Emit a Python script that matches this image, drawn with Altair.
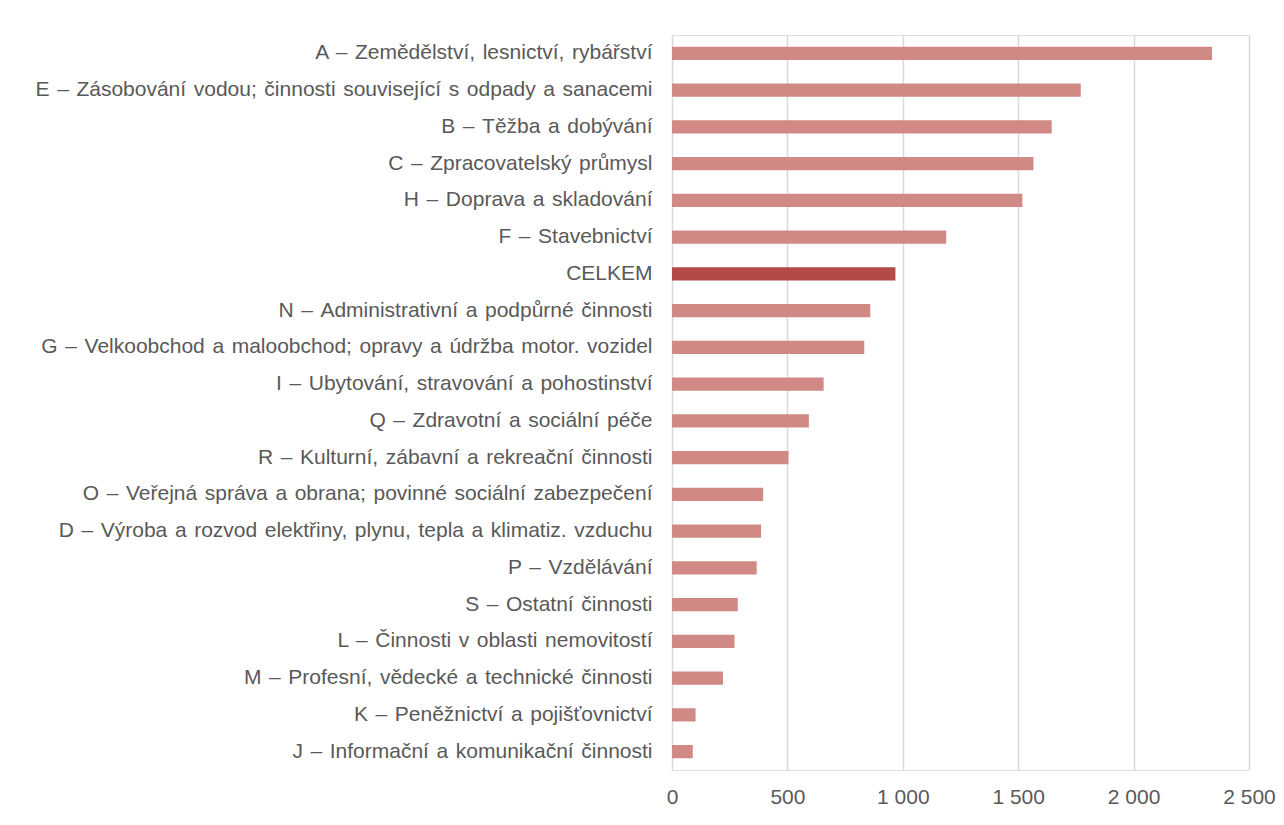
import altair as alt
import pandas as pd

categories = [
    "A – Zemědělství, lesnictví, rybářství",
    "E – Zásobování vodou; činnosti související s odpady a sanacemi",
    "B – Těžba a dobývání",
    "C – Zpracovatelský průmysl",
    "H – Doprava a skladování",
    "F – Stavebnictví",
    "CELKEM",
    "N – Administrativní a podpůrné činnosti",
    "G – Velkoobchod a maloobchod; opravy a údržba motor. vozidel",
    "I – Ubytování, stravování a pohostinství",
    "Q – Zdravotní a sociální péče",
    "R – Kulturní, zábavní a rekreační činnosti",
    "O – Veřejná správa a obrana; povinné sociální zabezpečení",
    "D – Výroba a rozvod elektřiny, plynu, tepla a klimatiz. vzduchu",
    "P – Vzdělávání",
    "S – Ostatní činnosti",
    "L – Činnosti v oblasti nemovitostí",
    "M – Profesní, vědecké a technické činnosti",
    "K – Peněžnictví a pojišťovnictví",
    "J – Informační a komunikační činnosti",
]
values = [2340, 1771, 1645, 1566, 1518, 1188, 968, 859, 833, 657,
          593, 505, 395, 386, 367, 285, 271, 221, 102, 90]
is_total = [c == "CELKEM" for c in categories]
x_ticks = [0, 500, 1000, 1500, 2000, 2500]

df = pd.DataFrame({"kategorie": categories, "hodnota": values,
                   "typ": ["celkem" if t else "odvetvi" for t in is_total]})

font = "Liberation Sans"

chart = alt.Chart(df).mark_bar().encode(
    y=alt.Y("kategorie:N", sort=categories, title=None,
            scale=alt.Scale(paddingInner=0.64, paddingOuter=0.32),
            axis=alt.Axis(domain=False, ticks=False, labelPadding=20,
                          labelLimit=1000, labelFontSize=21, labelFont=font,
                          labelColor="#595959", grid=False,
                          labelExpr="join(split(datum.label, ' '), ' \u200a')")),
    x=alt.X("hodnota:Q", title=None,
            scale=alt.Scale(domain=[0, 2500], nice=False),
            axis=alt.Axis(values=x_ticks,
                          labelExpr="replace(format(datum.value, ','), ',', ' ')",
                          domain=False, ticks=False, labelPadding=16,
                          labelFlush=False,
                          labelFontSize=21, labelFont=font, labelColor="#595959",
                          grid=True, gridColor="#d9d9d9", gridWidth=1.5)),
    color=alt.Color("typ:N", legend=None,
                    scale=alt.Scale(domain=["odvetvi", "celkem"],
                                    range=["#d18985", "#b34a47"])),
).properties(
    width=577,
    height=735,
    autosize=alt.AutoSizeParams(type="none"),
    padding={"left": 664, "top": 27, "right": 27, "bottom": 38},
).configure_view(stroke=None).configure(background="white")

chart.save("out.html", embed_options={"renderer": "svg", "actions": False})
